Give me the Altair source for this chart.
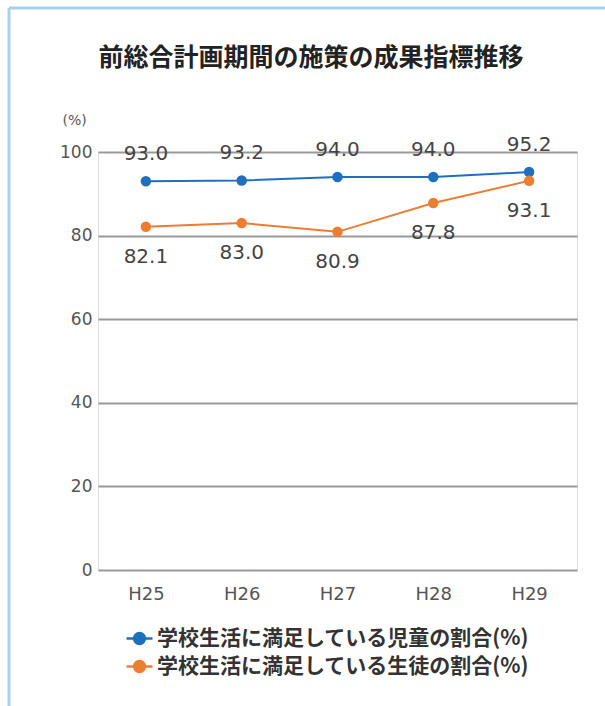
import altair as alt
import pandas as pd

years = ["H25", "H26", "H27", "H28", "H29"]
jido = [93.0, 93.2, 94.0, 94.0, 95.2]
seito = [82.1, 83.0, 80.9, 87.8, 93.1]
series_names = ["学校生活に満足している児童の割合(%)", "学校生活に満足している生徒の割合(%)"]
colors = ["#1f6fbf", "#ed7d31"]
y_ticks = [0, 20, 40, 60, 80, 100]
title_text = ["前総合計画期間の施策の成果指標推移"]

rows = []
for name, vals in zip(series_names, [jido, seito]):
    for yr, v in zip(years, vals):
        rows.append({"year": yr, "value": v, "series": name, "label": f"{v:.1f}"})
df = pd.DataFrame(rows)

FONT = "Noto Sans CJK JP"
NUMFONT = "DejaVu Sans"
W, H = 479, 418

legend_path = ("M-1,0L1,0 "
               "M0.42,0A0.42,0.42 0 1,1 -0.42,0A0.42,0.42 0 1,1 0.42,0Z "
               "M0.28,0A0.28,0.28 0 1,1 -0.28,0A0.28,0.28 0 1,1 0.28,0Z "
               "M0.14,0A0.14,0.14 0 1,1 -0.14,0A0.14,0.14 0 1,1 0.14,0Z")

color = alt.Color(
    "series:N",
    scale=alt.Scale(domain=series_names, range=colors),
    legend=alt.Legend(
        title=None, orient="none", legendX=27, legendY=472,
        symbolType=legend_path, symbolSize=676, symbolStrokeWidth=2.4,
        labelFont=FONT, labelFontSize=21, labelFontWeight="bold",
        labelColor="#333333", rowPadding=3, labelOffset=3, labelLimit=520,
    ),
)

x = alt.X("year:N", sort=years,
          scale=alt.Scale(paddingInner=0, paddingOuter=0.5),
          axis=alt.Axis(title=None, labelAngle=0, domain=False, ticks=False,
                        labelFont=NUMFONT, labelFontSize=18, labelColor="#555555",
                        labelPadding=15, grid=False))
y = alt.Y("value:Q", scale=alt.Scale(domain=[0, 100]),
          axis=alt.Axis(values=y_ticks, title="(%)", titleAngle=0,
                        titleAlign="left", titleX=-36, titleY=-32,
                        titleBaseline="middle", titleFont=NUMFONT, titleFontSize=14,
                        titleFontWeight="normal", titleColor="#555555",
                        domain=False, ticks=False, labelFont=NUMFONT,
                        labelFontSize=17, labelColor="#555555", labelPadding=6,
                        grid=True, gridColor="#999999", gridWidth=2))

base = alt.Chart(df)
lines = base.mark_line(strokeWidth=2).encode(x=x, y=y, color=color)
points = base.mark_point(filled=True, size=110, opacity=1).encode(
    x=x, y=y, color=alt.Color("series:N", scale=alt.Scale(domain=series_names, range=colors), legend=None))

txt_style = dict(font=NUMFONT, fontSize=20, color="#444444", baseline="middle")
labels_top = base.transform_filter(alt.datum.series == series_names[0]).mark_text(dy=-27, **txt_style).encode(
    x=x, y=y, text="label:N")
labels_bot = base.transform_filter(alt.datum.series == series_names[1]).mark_text(dy=30, **txt_style).encode(
    x=x, y=y, text="label:N")

title_layer = alt.Chart(pd.DataFrame({"t": title_text})).mark_text(
    font=FONT, fontSize=25, fontWeight="bold", color="#222222",
    align="center", baseline="middle").encode(
    text="t:N", x=alt.value(213), y=alt.value(-94))

frame_l = alt.Chart(pd.DataFrame({"a": [0]})).mark_rule(color="#a9cfea", strokeWidth=3).encode(
    x=alt.value(-89), y=alt.value(-144), y2=alt.value(706))
frame_t = alt.Chart(pd.DataFrame({"a": [0]})).mark_rule(color="#a9cfea", strokeWidth=3).encode(
    x=alt.value(-89), x2=alt.value(600), y=alt.value(-144))

chart = alt.layer(lines, points, labels_top, labels_bot, title_layer, frame_l, frame_t).properties(
    width=W, height=H,
    autosize=alt.AutoSizeParams(type="none"),
    padding={"left": 98, "top": 152, "right": 28, "bottom": 136},
).configure_view(stroke=None).configure(background="white")

chart.save("out.html", embed_options={"renderer": "svg", "actions": False})
